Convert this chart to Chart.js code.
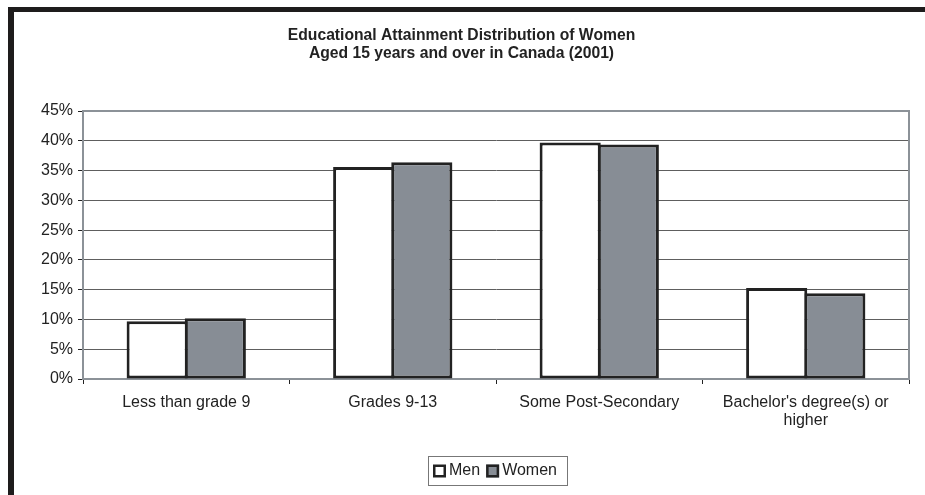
<!DOCTYPE html>
<html>
<head>
<meta charset="utf-8">
<script src="https://cdn.jsdelivr.net/npm/chart.js@4/dist/chart.umd.min.js"></script>
<style>
  html, body { margin: 0; padding: 0; background: #fff; }
  #wrap { position: relative; width: 925px; height: 495px; }
</style>
</head>
<body>
<div id="wrap"><canvas id="c" width="925" height="495"></canvas></div>
<script>
// Education levels (x categories)
const categories = [
  'Less than grade 9',
  'Grades 9-13',
  'Some Post-Secondary',
  ["Bachelor's degree(s) or", 'higher']
];
// Share of population aged 15+ (percent)
const menValues = [9.7, 35.6, 39.7, 15.3];
const womenValues = [10.2, 36.4, 39.4, 14.4];
const seriesNames = ['Men', 'Women'];
const titleLines = ['Educational Attainment Distribution of Women', 'Aged 15 years and over in Canada (2001)'];

const FONT = "'Liberation Sans', Arial, Helvetica, sans-serif";
const INK = '#222';
const WOMEN_FILL = '#878d95';

// Page frame, plot outline and boxed legend
const decor = {
  id: 'decor',
  beforeDraw(chart) {
    const ctx = chart.ctx;
    ctx.save();
    ctx.fillStyle = '#fff';
    ctx.fillRect(0, 0, chart.width, chart.height);
    ctx.restore();
  },
  afterDraw(chart) {
    const ctx = chart.ctx;
    const a = chart.chartArea;
    ctx.save();
    // plot outline
    ctx.strokeStyle = '#8c9298';
    ctx.lineWidth = 2;
    ctx.beginPath();
    ctx.moveTo(a.left, a.top);
    ctx.lineTo(a.right, a.top);
    ctx.lineTo(a.right, a.bottom);
    ctx.stroke();

    // legend
    ctx.font = '16px ' + FONT;
    ctx.textBaseline = 'middle';
    const box = 13, gapText = 3, gapItem = 6, padL = 5, padR = 10;
    const ds = chart.data.datasets;
    let total = padL + padR;
    ds.forEach((d, i) => {
      total += box + gapText + ctx.measureText(d.label).width;
      if (i < ds.length - 1) total += gapItem;
    });
    total = Math.round(total);
    const lx = Math.round(497 - total / 2), ly = 456, lh = 29;
    ctx.strokeStyle = '#777';
    ctx.lineWidth = 1;
    ctx.strokeRect(lx + 0.5, ly + 0.5, total, lh);
    let x = lx + padL;
    const cy = ly + lh / 2 + 0.5;
    ds.forEach((d, i) => {
      ctx.fillStyle = d.backgroundColor;
      ctx.fillRect(x, cy - box / 2, box, box);
      ctx.strokeStyle = INK;
      ctx.lineWidth = 2.5;
      ctx.strokeRect(x + 1.25, cy - box / 2 + 1.25, box - 2.5, box - 2.5);
      x += box + gapText;
      ctx.fillStyle = INK;
      ctx.textAlign = 'left';
      ctx.fillText(d.label, x, cy);
      x += ctx.measureText(d.label).width + gapItem;
    });

    // black page frame (top and left)
    ctx.fillStyle = '#1e1c1c';
    ctx.fillRect(8, 7, chart.width - 8, 5);
    ctx.fillRect(8, 7, 6, chart.height - 7);
    ctx.restore();
  }
};

new Chart(document.getElementById('c'), {
  type: 'bar',
  data: {
    labels: categories,
    datasets: [
      { label: seriesNames[0], data: menValues, backgroundColor: '#ffffff' },
      { label: seriesNames[1], data: womenValues, backgroundColor: WOMEN_FILL }
    ]
  },
  options: {
    responsive: false,
    animation: false,
    devicePixelRatio: 1,
    layout: { padding: { left: 14, right: 16, top: 0, bottom: 40 } },
    datasets: {
      bar: {
        borderColor: INK,
        borderWidth: 3,
        borderSkipped: false,
        // paired bars share their touching edge
        barPercentage: 1.052,
        categoryPercentage: 0.563
      }
    },
    plugins: {
      legend: { display: false },
      tooltip: { enabled: false },
      title: {
        display: true,
        text: titleLines,
        color: INK,
        font: { family: FONT, size: 15.7, weight: 'bold', lineHeight: 1.17 },
        padding: { top: 26, bottom: 48.3 }
      }
    },
    scales: {
      x: {
        afterFit(scale) { scale.height = 76; },
        grid: {
          offset: true,
          drawOnChartArea: false,
          drawTicks: true,
          tickLength: 5,
          tickColor: INK,
          lineWidth: 1
        },
        border: { display: true, color: '#8c9298', width: 2 },
        ticks: {
          color: INK,
          padding: 9,
          maxRotation: 0,
          autoSkip: false,
          font: { family: FONT, size: 16, lineHeight: 1.15 }
        }
      },
      y: {
        min: 0,
        max: 45,
        afterFit(scale) { scale.width = 69; },
        grid: {
          color: '#5e5e5e',
          lineWidth: 1,
          tickLength: 5,
          tickColor: INK
        },
        border: { display: true, color: '#8c9298', width: 2 },
        ticks: {
          stepSize: 5,
          color: INK,
          padding: 5,
          font: { family: FONT, size: 16 },
          callback: v => v + '%'
        }
      }
    }
  },
  plugins: [decor]
});
</script>
</body>
</html>
